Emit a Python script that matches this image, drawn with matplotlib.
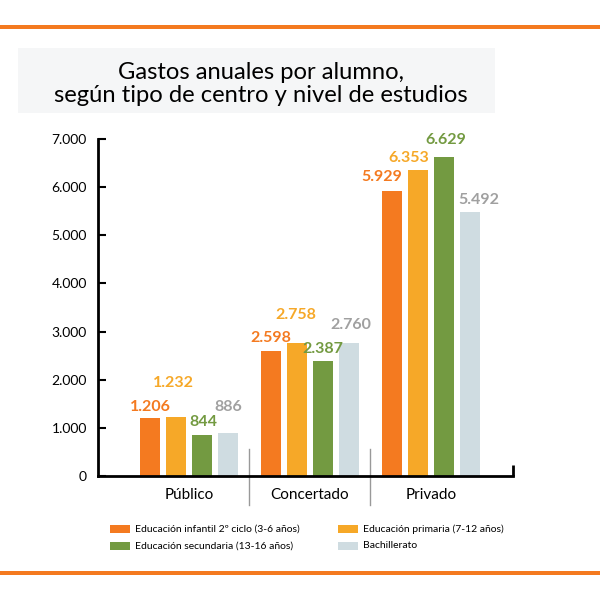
import numpy as np
import matplotlib.pyplot as plt
from matplotlib.patches import Rectangle

plt.rcParams['font.family'] = ['Lato', 'DejaVu Sans']

# -----------------------------
# Data
# -----------------------------
centros = ["Público", "Concertado", "Privado"]
niveles = [
    "Educación infantil 2º ciclo (3-6 años)",
    "Educación primaria (7-12 años)",
    "Educación secundaria (13-16 años)",
    "Bachillerato",
]
infantil = [1206, 2598, 5929]
primaria = [1232, 2758, 6353]
secundaria = [844, 2387, 6629]
bachillerato = [886, 2760, 5492]
series = [infantil, primaria, secundaria, bachillerato]

colors = ["#F47A20", "#F6A828", "#739A41", "#CFDCE1"]
label_colors = ["#F47A20", "#F6A828", "#739A41", "#A0A0A0"]
# value label nudges in pixels (dy above bar top, dx sideways), as in the original
label_dy = [
    [11, 13, 14],
    [34, 28, 12],
    [13, 12, 17],
    [26, 18, 12],
]
label_dx = [
    [0, 0, -10],
    [-3, -1, -9],
    [1, 0, 2],
    [0, 2, 9],
]

fmt = lambda v: f"{v:,}".replace(",", ".")

# -----------------------------
# Figure
# -----------------------------
fig = plt.figure(figsize=(6, 6), dpi=100)
fig.patch.set_facecolor("white")

# orange rules top and bottom
fig.add_artist(Rectangle((0, 1 - 29 / 600), 1, 4 / 600, transform=fig.transFigure,
                         color="#F47A20", lw=0))
fig.add_artist(Rectangle((0, 1 - 575 / 600), 1, 4 / 600, transform=fig.transFigure,
                         color="#F47A20", lw=0))

# title box
fig.add_artist(Rectangle((18 / 600, 1 - 113 / 600), 477 / 600, 65 / 600,
                         transform=fig.transFigure, color="#F5F6F7", lw=0))
fig.text(0.435, 1 - 84 / 600, "Gastos anuales por alumno,\nsegún tipo de centro y nivel de estudios",
         ha="center", va="center", fontsize=17.1, linespacing=1.08, color="black")

ax = fig.add_axes([98 / 600, 1 - 476 / 600, (513 - 98) / 600, (476 - 139) / 600])
ax.set_facecolor("none")

x = np.arange(len(centros))
step = 0.215
width = 0.168
px = 7000 / 337          # data units per pixel (y)
pxx = 3.43 / 415         # data units per pixel (x)

for i, (vals, c) in enumerate(zip(series, colors)):
    xpos = x + (i - 1.5) * step
    ax.bar(xpos, vals, width=width, color=c, zorder=2)
    for j, v in enumerate(vals):
        ax.text(xpos[j] + label_dx[i][j] * pxx, v + label_dy[i][j] * px, fmt(v),
                ha="center", va="center", fontsize=11.5, fontweight="bold",
                color=label_colors[i], zorder=3)

ax.set_xlim(-0.752, 2.678)
ax.set_ylim(0, 7000)
ax.set_yticks(np.arange(0, 7001, 1000))
ax.set_yticklabels([fmt(v) for v in range(0, 7001, 1000)], fontsize=10)
ax.tick_params(axis="y", direction="in", length=6, width=1.5, pad=8)
ax.set_xticks([])

for s in ["top", "right"]:
    ax.spines[s].set_visible(False)
ax.spines["left"].set_linewidth(2)
ax.spines["bottom"].set_linewidth(2)

# right end tick
ax.plot([2.678, 2.678], [0, 11 * px], color="black", lw=2, clip_on=False,
        solid_capstyle="butt")

# group separators
for sx in [0.496, 1.496]:
    ax.plot([sx, sx], [-29 * px, 27 * px], color="#999999", lw=1, clip_on=False)

for j, name in enumerate(centros):
    ax.text(x[j], -19 * px, name, ha="center", va="center", fontsize=11)

# legend
leg_pos = [(110, 529), (338, 529), (110, 546), (338, 546)]
for (lx, ly), name, c in zip(leg_pos, niveles, colors):
    fig.add_artist(Rectangle((lx / 600, 1 - (ly + 4) / 600), 20 / 600, 8 / 600,
                             transform=fig.transFigure, color=c, lw=0))
    fig.text((lx + 25) / 600, 1 - ly / 600, name, ha="left", va="center",
             fontsize=7.5, color="black")

fig.savefig("out.png", dpi=100)
